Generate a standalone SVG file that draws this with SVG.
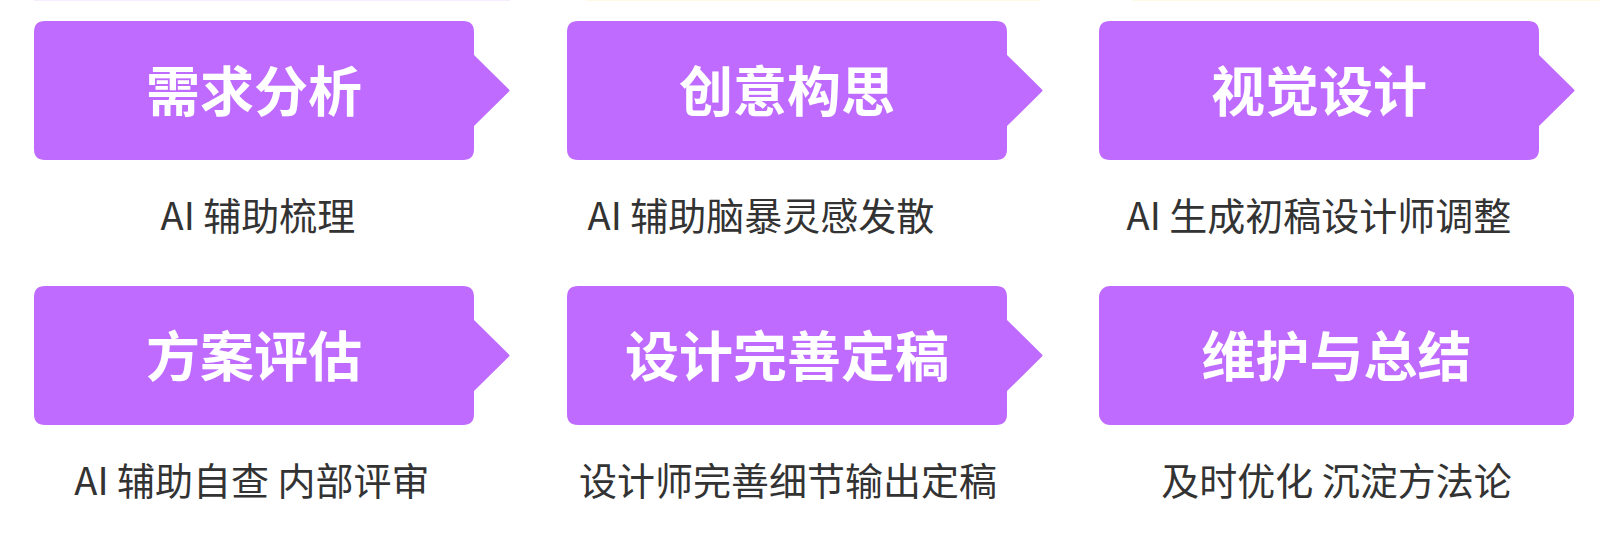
<svg xmlns="http://www.w3.org/2000/svg" xmlns:xlink="http://www.w3.org/1999/xlink" width="1600" height="534" viewBox="0 0 1600 534">
  <defs>
    <path id="box" d="M11,0 H429 Q440,0 440,11 V34 L475,68.5 Q476,69.5 475,70.5 L440,105 V128 Q440,139 429,139 H11 Q0,139 0,128 V11 Q0,0 11,0 Z"/>
    <rect id="box-end" x="0" y="0" width="475" height="139" rx="11" ry="11"/>
  </defs>
  <style>
    .box { fill: #BF6BFF; }
    .title { font-family: "Noto Sans CJK SC", "Noto Sans", sans-serif; font-weight: 700; font-size: 54px; fill: #FFFFFF; text-anchor: middle; }
    .cap { font-family: "Noto Sans CJK SC", "Noto Sans", sans-serif; font-weight: 400; font-size: 38px; fill: #333333; text-anchor: middle; }
  </style>
  <rect width="1600" height="534" fill="#FFFFFF"/>
  <g id="top-edge" stroke-width="2" fill="none">
    <line x1="34" y1="0" x2="510" y2="0" stroke="#F6EEFF"/>
    <line x1="586" y1="0" x2="1040" y2="0" stroke="#FFF9E8"/>
    <line x1="1133" y1="0" x2="1600" y2="0" stroke="#FFF9E8"/>
  </g>
  <g id="connectors"></g>
  <g id="node-1" transform="translate(34,21)">
    <use xlink:href="#box" class="box"/>
    <text class="title" x="220" y="91">需求分析</text>
    <text class="cap" x="224" y="209">AI 辅助梳理</text>
  </g>
  <g id="node-2" transform="translate(567,21)">
    <use xlink:href="#box" class="box"/>
    <text class="title" x="220" y="91">创意构思</text>
    <text class="cap" x="194" y="209">AI 辅助脑暴灵感发散</text>
  </g>
  <g id="node-3" transform="translate(1099,21)">
    <use xlink:href="#box" class="box"/>
    <text class="title" x="220" y="91">视觉设计</text>
    <text class="cap" x="220" y="209">AI 生成初稿设计师调整</text>
  </g>
  <g id="node-4" transform="translate(34,286)">
    <use xlink:href="#box" class="box"/>
    <text class="title" x="220" y="91">方案评估</text>
    <text class="cap" x="218" y="209">AI 辅助自查 内部评审</text>
  </g>
  <g id="node-5" transform="translate(567,286)">
    <use xlink:href="#box" class="box"/>
    <text class="title" x="220" y="91">设计完善定稿</text>
    <text class="cap" x="221" y="209">设计师完善细节输出定稿</text>
  </g>
  <g id="node-6" transform="translate(1099,286)">
    <use xlink:href="#box-end" class="box"/>
    <text class="title" x="237.5" y="91">维护与总结</text>
    <text class="cap" x="237.5" y="209">及时优化 沉淀方法论</text>
  </g>
</svg>
